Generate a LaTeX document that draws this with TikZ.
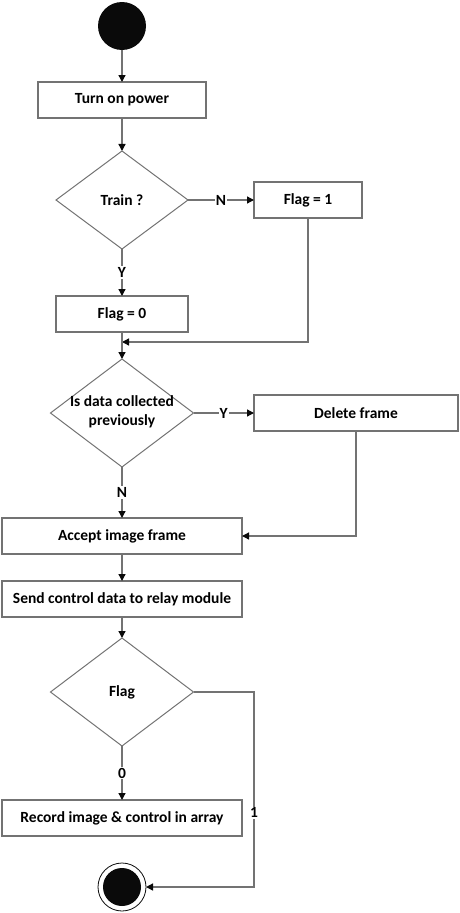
\documentclass[tikz,border=0pt]{standalone}
\usepackage{fontspec}
\setmainfont{Carlito}
\usetikzlibrary{arrows.meta,shapes.geometric,positioning}
\definecolor{flowgray}{RGB}{115,115,115}
\definecolor{flowdark}{RGB}{10,10,10}

\begin{document}
\begin{tikzpicture}[x=1pt,y=-1pt,
  every node/.style={font=\fontsize{15.5}{19}\selectfont\bfseries,outer sep=0pt},
  actbox/.style={draw=flowgray,line width=1.3pt,rectangle,minimum height=36pt,inner sep=0pt},
  choice/.style={draw=flowgray,line width=1pt,diamond,inner sep=0pt},
  dot/.style={circle,fill=flowdark,inner sep=0pt},
  tag/.style={fill=white,inner sep=1pt,font=\fontsize{15.5}{19}\selectfont\bfseries},
  flow/.style={draw=flowgray,line width=1.3pt,-{Triangle[length=7pt,width=7pt,color=flowdark]}}]
  \useasboundingbox (0,0) rectangle (459,913);
  % start and first steps
  \node[dot,minimum size=48pt] (start) at (122,26) {};
  \node[actbox,minimum width=168pt] (power) at (122,100) {Turn on power};
  \node[choice,minimum width=132pt,minimum height=98pt] (train) at (122,200) {};
  \node (traintxt) at (train) {Train ?};
  \node[actbox,minimum width=108pt] (flagone) at (308,200) {Flag = 1};
  \node[actbox,minimum width=132pt] (flagzero) at (122,314) {Flag = 0};
  \coordinate (join) at (122,342);
  % data check
  \node[choice,minimum width=143pt,minimum height=108pt] (collected) at (122,413) {};
  \node[align=center] (collectedtxt) at (122,412) {Is data collected\\previously};
  \node[actbox,minimum width=204pt] (delete) at (356,413) {Delete frame};
  \node[actbox,minimum width=240pt] (accept) at (122,536) {Accept image frame};
  \node[actbox,minimum width=240pt] (send) at (122,599) {Send control data to relay module};
  % flag check and end
  \node[choice,minimum width=143pt,minimum height=108pt] (flag) at (122,692) {};
  \node (flagtxt) at (flag) {Flag};
  \node[actbox,minimum width=240pt] (record) at (122,818) {Record image \& control in array};
  \coordinate (bend) at (254,692);
  \node[circle,draw=flowdark,line width=0.8pt,minimum size=48pt,inner sep=0pt] (finish) at (122,887) {};
  \node[dot,minimum size=38pt] (finishdot) at (finish) {};

  \draw[flow] (start) -- (power);
  \draw[flow] (power) -- (train);
  \draw[flow] (train) -- node[tag]{N} (flagone);
  \draw[flow] (train) -- node[tag]{Y} (flagzero);
  \draw[flow] (flagone) |- (join);
  \draw[flow] (flagzero) -- (collected);
  \draw[flow] (collected) -- node[tag]{Y} (delete);
  \draw[flow] (collected) -- node[tag]{N} (accept);
  \draw[flow] (delete) |- (accept);
  \draw[flow] (accept) -- (send);
  \draw[flow] (send) -- (flag);
  \draw[flow] (flag) -- node[tag]{0} (record);
  \draw[flow] (flag.east) -- (bend) |- node[tag,pos=0.31]{1} (finish);
\end{tikzpicture}
\end{document}
